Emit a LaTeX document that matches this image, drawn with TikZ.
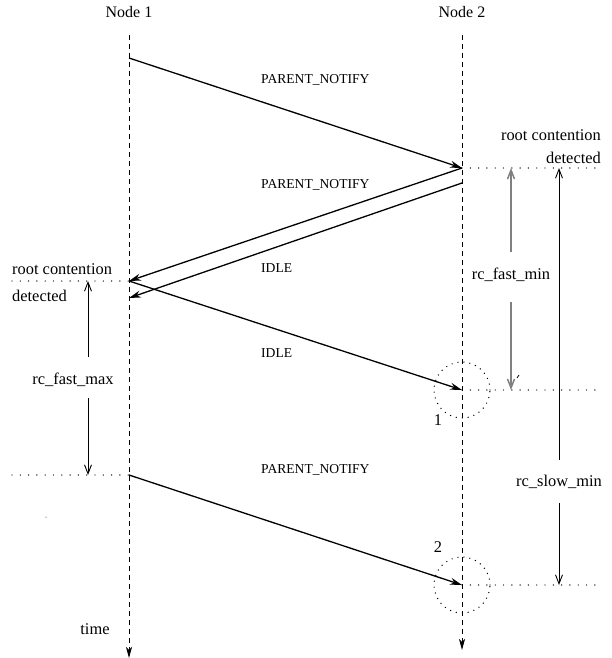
\documentclass[tikz,border=0pt]{standalone}
\usepackage{fontspec}
\setmainfont{Liberation Serif}
\usetikzlibrary{arrows.meta}
\begin{document}
\begin{tikzpicture}[x=1pt,y=-1pt,
  lifeline/.style={line width=1pt,dash pattern=on 5pt off 4pt,-{Stealth[length=11pt,width=6pt,inset=3pt]}},
  msg/.style={line width=1.3pt,-{Stealth[length=12pt,width=7pt,inset=4pt]}},
  plain/.style={line width=1.3pt},
  guide/.style={line width=1.4pt,line cap=round,dash pattern=on 0pt off 8.3pt},
  ring/.style={circle,draw,line width=1.4pt,line cap=round,dash pattern=on 0pt off 6pt,minimum size=56pt,inner sep=0pt},
  span/.style={line width=0.9pt,-{Straight Barb[length=9pt,width=7pt]}},
  greyspan/.style={span,draw=black!50,line width=1.5pt},
  title/.style={font=\fontsize{16}{18}\selectfont,inner sep=0pt},
  txt/.style={font=\fontsize{16.4}{19}\selectfont,inner sep=0pt},
  msglabel/.style={font=\fontsize{13.6}{16}\selectfont,inner sep=0pt,anchor=west}]
\useasboundingbox (0,0) rectangle (611,658);

% lifelines
\node[title] (node1) at (129,12) {Node 1};
\node[title] (node2) at (462,12) {Node 2};
\coordinate (a1) at (129,35);
\coordinate (a2) at (129,658);
\coordinate (b1) at (462,35);
\coordinate (b2) at (462,650);
\draw[lifeline] (a1) -- (a2);
\draw[lifeline] (b1) -- (b2);
\node[txt] (time) at (95,629) {time};

% event points
\coordinate (s1) at (129,58);
\coordinate (r1) at (462,168);
\coordinate (s3) at (462,183);
\coordinate (r2) at (129,281);
\coordinate (r3) at (129,298);
\coordinate (r4) at (462,390);
\coordinate (s5) at (129,475);
\coordinate (r5) at (462,585);

% messages
\draw[msg] (s1) -- (r1);
\draw[msg] (r1) -- (r2);
\draw[msg] (s3) -- (r3);
\draw[msg] (r2) -- (r4);
\draw[msg] (s5) -- (r5);
\node[msglabel] (m1) at (261,80) {PARENT\_NOTIFY};
\node[msglabel] (m2) at (261,185) {PARENT\_NOTIFY};
\node[msglabel] (m3) at (261,268) {IDLE};
\node[msglabel] (m4) at (261,353) {IDLE};
\node[msglabel] (m5) at (261,470) {PARENT\_NOTIFY};

% guide lines
\coordinate (g1) at (603,168);
\coordinate (g2) at (12,281);
\coordinate (g3) at (603,390);
\coordinate (g4) at (12,475);
\coordinate (g5) at (603,585);
\draw[guide] (r1) -- (g1);
\draw[guide] (g2) -- (r2);
\draw[guide] (r4) -- (g3);
\draw[guide] (g4) -- (s5);
\draw[guide] (r5) -- (g5);

% root contention notes
\node[txt,anchor=east] (rc2a) at (601,135) {root contention};
\node[txt,anchor=east] (rc2b) at (601,158) {detected};
\node[txt,anchor=west] (rc1a) at (12,269) {root contention};
\node[txt,anchor=west] (rc1b) at (12,296) {detected};

% marked events
\node[ring] (c1) at (r4) {};
\node[ring] (c2) at (r5) {};
\node[txt] (l1) at (438,420) {1};
\node[txt] (l2) at (438,547) {2};

% timing spans
\node[txt] (fmin) at (511,275) {rc\_fast\_min};
\coordinate (fmin1) at (511,252);
\coordinate (fmin2) at (511,302);
\draw[greyspan] (fmin1) -- (r1 -| fmin1);
\draw[greyspan] (fmin2) -- (r4 -| fmin2);

\node[txt] (smin) at (559,482) {rc\_slow\_min};
\coordinate (smin1) at (559,460);
\coordinate (smin2) at (559,503);
\draw[span] (smin1) -- (r1 -| smin1);
\draw[span] (smin2) -- (r5 -| smin2);

\node[txt] (fmax) at (73,380) {rc\_fast\_max};
\coordinate (fmax1) at (88,357);
\coordinate (fmax2) at (88,398);
\draw[span] (fmax1) -- (r2 -| fmax1);
\draw[span] (fmax2) -- (s5 -| fmax2);

% stray marks
\draw[line width=0.8pt] (517,378) -- (519,375);
\fill (46,517) circle (0.5pt);
\end{tikzpicture}
\end{document}
